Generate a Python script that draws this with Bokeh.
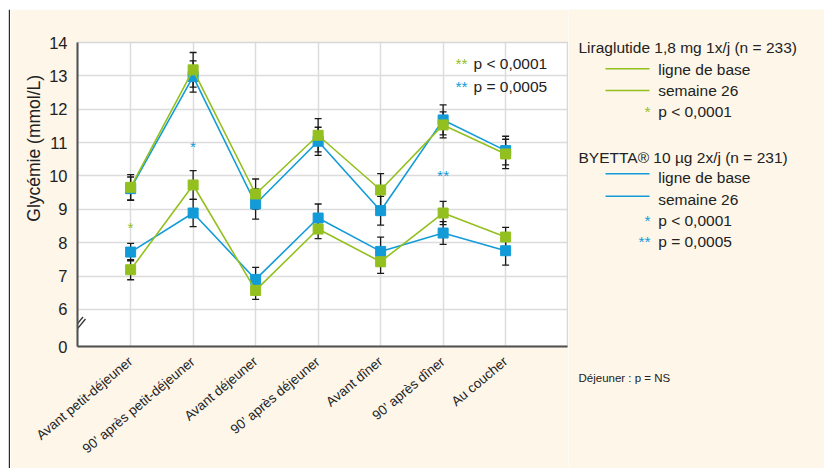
import math
from bokeh.plotting import figure
from bokeh.layouts import column, row
from bokeh.models import (FixedTicker, Label, Whisker, TeeHead, Range1d,
                          ColumnDataSource)
from bokeh.embed import file_html
from bokeh.resources import INLINE

# ---------------- data ----------------
categories = ["Avant petit-déjeuner", "90’ après petit-déjeuner", "Avant déjeuner",
              "90’ après déjeuner", "Avant dîner", "90’ après dîner", "Au coucher"]

lira_base = [9.66, 13.18, 9.46, 11.22, 9.58, 11.53, 10.66]
lira_base_err = [0.38, 0.52, 0.45, 0.50, 0.49, 0.39, 0.44]
lira_w26 = [7.19, 9.73, 6.57, 8.41, 7.43, 8.89, 8.17]
lira_w26_err = [0.30, 0.43, 0.27, 0.29, 0.35, 0.35, 0.29]

byetta_base = [9.62, 12.98, 9.16, 11.04, 8.96, 11.68, 10.76]
byetta_base_err = [0.35, 0.47, 0.45, 0.42, 0.43, 0.45, 0.43]
byetta_w26 = [7.72, 8.89, 6.90, 8.74, 7.74, 8.29, 7.76]
byetta_w26_err = [0.26, 0.41, 0.36, 0.42, 0.43, 0.34, 0.43]

ytick_values = [6, 7, 8, 9, 10, 11, 12, 13, 14]
zero_label = "0"

# significance marks: (category index, y value, drug, text)
sig_x = [0, 1, 5]
sig_y = [8.49, 10.94, 10.07]
sig_drug = ["lira", "byetta", "byetta"]
sig_text = ["*", "*", "**"]

# ---------------- style / layout ----------------
GREEN = "#93c01f"
BLUE = "#139bd8"
CREAM = "#fdf6e9"
DARK = "#222222"
BORDER = "#2b2b2b"
FONT = "Liberation Sans"

TOTAL_W, TOTAL_H = 824, 468
STRIP_T, STRIP_L = 9, 10
MAIN_X0, MAIN_X1 = 10, 568          # main figure horizontal extent (page px)
FR_L, FR_R, FR_T, FR_B = 77, 567, 42, 346   # plot frame (page px)
X0, X1 = -0.85, 6.99
Y0, Y1 = 4.89, 14.0


def X(px):
    return X0 + (px - FR_L) * (X1 - X0) / (FR_R - FR_L)


def Y(py):
    return Y1 - (py - FR_T) * (Y1 - Y0) / (FR_B - FR_T)


def no_align(f):
    try:
        f.frame_align = False
    except Exception:
        pass


def blank(w, h, xr, yr, bg):
    f = figure(width=w, height=h, x_range=Range1d(*xr), y_range=Range1d(*yr),
               x_axis_type=None, y_axis_type=None, output_backend="svg",
               toolbar_location=None, title_location=None, min_border=0)
    f.background_fill_color = bg
    f.border_fill_color = bg
    f.outline_line_color = None
    no_align(f)
    return f


# --- top white strip with dark rule
top = blank(TOTAL_W, STRIP_T, (0, TOTAL_W), (STRIP_T, 0), "white")
top.quad(left=[8.3], right=[TOTAL_W], top=[7.2], bottom=[8.9], fill_color=BORDER, line_color=None)
top.quad(left=[8.3], right=[10], top=[7.2], bottom=[STRIP_T], fill_color=BORDER, line_color=None)

# --- left white strip with dark rule
left = blank(STRIP_L, TOTAL_H - STRIP_T, (0, STRIP_L), (TOTAL_H, STRIP_T), "white")
left.quad(left=[8.3], right=[10], top=[STRIP_T], bottom=[TOTAL_H], fill_color=BORDER, line_color=None)

# --- main chart
MW = MAIN_X1 - MAIN_X0
MH = TOTAL_H - STRIP_T
p = figure(width=MW, height=MH, x_range=Range1d(X0, X1), y_range=Range1d(Y0, Y1),
           output_backend="svg", toolbar_location=None, title_location=None,
           min_border_left=FR_L - MAIN_X0, min_border_right=MAIN_X1 - FR_R,
           min_border_top=FR_T - STRIP_T, min_border_bottom=TOTAL_H - FR_B)
no_align(p)
p.background_fill_color = "white"
p.border_fill_color = CREAM
p.outline_line_color = "#d8d8d8"
p.outline_line_width = 1.5

p.xgrid.ticker = FixedTicker(ticks=list(range(len(categories))))
p.ygrid.ticker = FixedTicker(ticks=ytick_values)
for g in (p.xgrid, p.ygrid):
    g.grid_line_color = "#dcdcdc"
    g.grid_line_width = 1.5

xa = p.xaxis[0]
xa.ticker = FixedTicker(ticks=list(range(len(categories))))
xa.major_label_overrides = {i: c for i, c in enumerate(categories)}
xa.major_label_orientation = math.radians(40)
xa.major_label_text_font = FONT
xa.major_label_text_font_size = "13.5px"
xa.major_label_text_color = DARK
xa.major_label_standoff = 13
xa.major_tick_out = 0
xa.major_tick_in = 0
xa.minor_tick_out = 0
xa.minor_tick_in = 0
xa.axis_line_color = "#505050"
xa.axis_line_width = 2

ya = p.yaxis[0]
ya.ticker = FixedTicker(ticks=[Y0] + ytick_values)
overrides = {Y0: zero_label}
for v in ytick_values:
    overrides[v] = str(v)
ya.major_label_overrides = overrides
ya.major_label_text_font = FONT
ya.major_label_text_font_size = "16.5px"
ya.major_label_text_color = DARK
ya.major_label_standoff = 10
ya.major_tick_out = 0
ya.major_tick_in = 0
ya.minor_tick_out = 0
ya.minor_tick_in = 0
ya.axis_line_color = "#505050"
ya.axis_line_width = 2

# y title: axis label centred on the frame, pushed upwards by leading no-break spaces
Y_TITLE = "Glycémie (mmol/L)"
ya.axis_label = "\u00a0" * 19 + Y_TITLE
ya.axis_label_text_font = FONT
ya.axis_label_text_font_size = "17.5px"
ya.axis_label_text_font_style = "normal"
ya.axis_label_text_color = DARK
ya.axis_label_standoff = 2


def add_err(vals, errs):
    src = ColumnDataSource(dict(x=list(range(len(vals))),
                                u=[v + e for v, e in zip(vals, errs)],
                                l=[v - e for v, e in zip(vals, errs)]))
    w = Whisker(source=src, base="x", upper="u", lower="l", dimension="height",
                line_color="#1a1a1a", line_width=1.3,
                upper_head=TeeHead(size=7, line_color="#1a1a1a", line_width=1.3),
                lower_head=TeeHead(size=7, line_color="#1a1a1a", line_width=1.3))
    p.add_layout(w)


for vals, errs in ((byetta_base, byetta_base_err), (byetta_w26, byetta_w26_err),
                   (lira_base, lira_base_err), (lira_w26, lira_w26_err)):
    add_err(vals, errs)

xs = list(range(len(categories)))
for vals, col in ((byetta_base, BLUE), (byetta_w26, BLUE), (lira_base, GREEN), (lira_w26, GREEN)):
    p.line(xs, vals, line_color=col, line_width=1.6)
    p.scatter(xs, vals, marker="square", size=10, fill_color=col, line_color=col)

# significance asterisks
ppy = (FR_B - FR_T) / (Y1 - Y0)
for sx, sy, d, t in zip(sig_x, sig_y, sig_drug, sig_text):
    col = GREEN if d == "lira" else BLUE
    p.add_layout(Label(x=sx, y=sy - 1.5 / ppy, text=t, text_color=col,
                       text_font=FONT, text_font_size="15.5px",
                       text_align="center", text_baseline="middle"))


def mlabel(fig, x, y, text, size="15.5px", color=DARK, align="left"):
    fig.add_layout(Label(x=x, y=y, text=text, text_color=color, text_font=FONT,
                         text_font_size=size, text_align=align, text_baseline="middle"))


# in-plot key
mlabel(p, X(467), Y(62.9), "**", color=GREEN, align="right")
mlabel(p, X(473), Y(62.9), "p < 0,0001")
mlabel(p, X(467), Y(85.6), "**", color=BLUE, align="right")
mlabel(p, X(473), Y(85.6), "p = 0,0005")

# axis break marks (inside part)
p.segment(x0=[X(68.5), X(71.0)], y0=[Y(333.5), Y(335.5)],
          x1=[X(82.5), X(85.0)], y1=[Y(316.5), Y(318.5)], line_color="#333333", line_width=1.3)

# --- right-hand legend panel (page pixel coordinates)
rf = blank(TOTAL_W - MAIN_X1, MH, (MAIN_X1, TOTAL_W), (TOTAL_H, STRIP_T), CREAM)
mlabel(rf, 578, 47.3, "Liraglutide 1,8 mg 1x/j (n = 233)")
rf.line([605, 649], [68.3, 68.3], line_color=GREEN, line_width=1.6)
mlabel(rf, 657.7, 68.6, "ligne de base")
rf.line([605, 649], [90.0, 90.0], line_color=GREEN, line_width=1.6)
mlabel(rf, 657.7, 90.3, "semaine 26")
mlabel(rf, 650, 111.3, "*", color=GREEN, align="right")
mlabel(rf, 657.7, 111.3, "p < 0,0001")

mlabel(rf, 578, 157.3, "BYETTA® 10 µg 2x/j (n = 231)")
rf.line([605, 649], [173.3, 173.3], line_color=BLUE, line_width=1.6)
mlabel(rf, 657.7, 176.6, "ligne de base")
rf.line([605, 649], [195.7, 195.7], line_color=BLUE, line_width=1.6)
mlabel(rf, 657.7, 198.6, "semaine 26")
mlabel(rf, 650, 220.3, "*", color=BLUE, align="right")
mlabel(rf, 657.7, 220.3, "p < 0,0001")
mlabel(rf, 650, 241.3, "**", color=BLUE, align="right")
mlabel(rf, 657.7, 241.3, "p = 0,0005")

mlabel(rf, 578, 377.7, "Déjeuner : p = NS", size="11.5px")

layout = column(top, row(left, p, rf))
open("out.html", "w").write(file_html(layout, INLINE))
